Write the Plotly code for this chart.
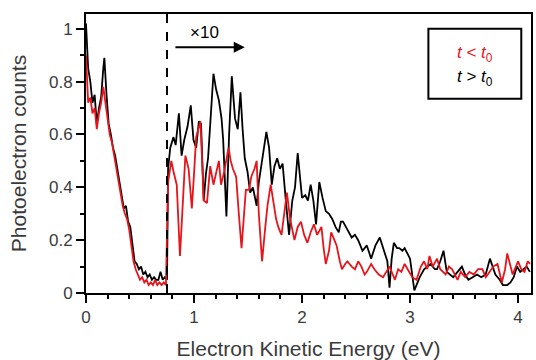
import plotly.graph_objects as go

# t > t0 (black)
black_x = [0.00, 0.01, 0.02, 0.04, 0.06, 0.08, 0.10, 0.12, 0.14, 0.16, 0.17, 0.19, 0.21, 0.23, 0.25, 0.27,
           0.29, 0.31, 0.33, 0.35, 0.37, 0.39, 0.41, 0.43, 0.45, 0.47, 0.49, 0.51, 0.53, 0.55, 0.57, 0.59,
           0.61, 0.63, 0.65, 0.67, 0.69, 0.71, 0.73, 0.75,
           0.76, 0.78, 0.81, 0.83, 0.86, 0.885, 0.91, 0.94, 0.97, 0.995, 1.02, 1.045, 1.065, 1.09, 1.11,
           1.13, 1.155, 1.18, 1.205, 1.23, 1.255, 1.27, 1.30, 1.325, 1.35, 1.365, 1.38, 1.405, 1.43, 1.45,
           1.47, 1.495, 1.52, 1.545, 1.58, 1.60, 1.635, 1.67, 1.695, 1.72, 1.745, 1.77, 1.795, 1.82, 1.85,
           1.88, 1.91, 1.935, 1.96, 1.98, 2.00, 2.03, 2.055, 2.08, 2.105, 2.13, 2.16, 2.19, 2.22, 2.25,
           2.28, 2.31, 2.34, 2.36, 2.38, 2.42, 2.46, 2.49, 2.52, 2.56, 2.60, 2.64, 2.68, 2.72, 2.76, 2.79,
           2.81, 2.83, 2.85, 2.88, 2.90, 2.93, 2.95, 3.00, 3.04, 3.07, 3.09, 3.13, 3.16, 3.19, 3.23, 3.25,
           3.28, 3.31, 3.34, 3.37, 3.40, 3.44, 3.48, 3.51, 3.54, 3.58, 3.62, 3.66, 3.70, 3.74, 3.77, 3.79,
           3.83, 3.86, 3.90, 3.93, 3.96, 3.99, 4.02, 4.05, 4.08, 4.11]
black_y = [1.02, 0.95, 0.85, 0.80, 0.72, 0.75, 0.64, 0.70, 0.74, 0.85, 0.89, 0.75, 0.64, 0.60, 0.55, 0.52,
           0.47, 0.41, 0.37, 0.32, 0.33, 0.27, 0.25, 0.18, 0.12, 0.11, 0.09, 0.10, 0.07, 0.08, 0.06, 0.07,
           0.05, 0.06, 0.05, 0.05, 0.08, 0.05, 0.06, 0.05,
           0.47, 0.55, 0.59, 0.56, 0.68, 0.52, 0.58, 0.63, 0.71, 0.58, 0.55, 0.65, 0.64, 0.35, 0.45,
           0.51, 0.66, 0.83, 0.77, 0.73, 0.66, 0.58, 0.29, 0.60, 0.82, 0.72, 0.66, 0.62, 0.76, 0.62,
           0.51, 0.46, 0.38, 0.40, 0.33, 0.42, 0.52, 0.61, 0.55, 0.41, 0.48, 0.51, 0.47, 0.49, 0.35,
           0.22, 0.35, 0.40, 0.53, 0.43, 0.36, 0.37, 0.35, 0.41, 0.35, 0.26, 0.42, 0.36, 0.31, 0.30,
           0.28, 0.25, 0.23, 0.27, 0.27, 0.24, 0.21, 0.22, 0.20, 0.16, 0.18, 0.13, 0.18, 0.21, 0.16, 0.12,
           0.02, 0.13, 0.19, 0.17, 0.17, 0.16, 0.17, 0.13, 0.01, 0.04, 0.06, 0.09, 0.10, 0.11, 0.09, 0.09,
           0.12, 0.16, 0.08, 0.07, 0.06, 0.08, 0.10, 0.07, 0.05, 0.06, 0.07, 0.06, 0.07, 0.13, 0.09, 0.07,
           0.05, 0.03, 0.03, 0.04, 0.06, 0.10, 0.08, 0.09, 0.10, 0.08]

# t < t0 (red)
red_x = [0.00, 0.01, 0.02, 0.04, 0.06, 0.08, 0.10, 0.12, 0.14, 0.16, 0.18, 0.20, 0.22, 0.24, 0.26, 0.28,
         0.30, 0.32, 0.34, 0.36, 0.38, 0.40, 0.42, 0.44, 0.46, 0.48, 0.50, 0.52, 0.54, 0.56, 0.58, 0.60,
         0.62, 0.64, 0.66, 0.68, 0.70, 0.72, 0.74,
         0.76, 0.79, 0.81, 0.84, 0.87, 0.895, 0.92, 0.95, 0.98, 1.00, 1.02, 1.04, 1.06, 1.075, 1.09,
         1.12, 1.15, 1.18, 1.205, 1.23, 1.25, 1.28, 1.32, 1.34, 1.36, 1.39, 1.415, 1.44, 1.46, 1.48,
         1.51, 1.53, 1.56, 1.58, 1.60, 1.63, 1.66, 1.68, 1.71, 1.74, 1.76, 1.78, 1.81, 1.835, 1.86,
         1.89, 1.93, 1.96, 1.99, 2.02, 2.05, 2.08, 2.11, 2.14, 2.18, 2.20, 2.22, 2.25, 2.27, 2.30,
         2.32, 2.35, 2.37, 2.40, 2.42, 2.46, 2.49, 2.52, 2.55, 2.58, 2.60, 2.64, 2.67, 2.71, 2.75,
         2.78, 2.81, 2.84, 2.86, 2.89, 2.92, 2.95, 2.98, 3.02, 3.06, 3.10, 3.13, 3.16, 3.18, 3.21,
         3.25, 3.28, 3.33, 3.36, 3.39, 3.44, 3.47, 3.51, 3.55, 3.59, 3.63, 3.67, 3.70, 3.72, 3.77,
         3.81, 3.85, 3.88, 3.90, 3.93, 3.95, 3.98, 4.00, 4.03, 4.06, 4.09, 4.11]
red_y = [0.90, 0.80, 0.72, 0.74, 0.68, 0.70, 0.62, 0.68, 0.72, 0.78, 0.72, 0.64, 0.60, 0.57, 0.52, 0.47,
         0.43, 0.38, 0.33, 0.30, 0.28, 0.24, 0.17, 0.12, 0.09, 0.07, 0.05, 0.06, 0.04, 0.05, 0.03, 0.04,
         0.03, 0.05, 0.03, 0.04, 0.03, 0.04, 0.03,
         0.42, 0.50, 0.46, 0.41, 0.14, 0.35, 0.52, 0.47, 0.32, 0.45, 0.59, 0.62, 0.65, 0.50, 0.35,
         0.34, 0.48, 0.41, 0.45, 0.50, 0.41, 0.46, 0.55, 0.50, 0.47, 0.44, 0.30, 0.17, 0.28, 0.39,
         0.39, 0.44, 0.47, 0.50, 0.30, 0.12, 0.25, 0.33, 0.41, 0.33, 0.28, 0.25, 0.22, 0.30, 0.38,
         0.28, 0.20, 0.25, 0.27, 0.22, 0.19, 0.23, 0.26, 0.22, 0.25, 0.17, 0.11, 0.16, 0.23, 0.20,
         0.18, 0.12, 0.09, 0.11, 0.12, 0.10, 0.09, 0.12, 0.10, 0.07, 0.08, 0.11, 0.09, 0.07, 0.06,
         0.08, 0.10, 0.07, 0.05, 0.09, 0.08, 0.11, 0.09, 0.06, 0.05, 0.10, 0.12, 0.09, 0.14, 0.10,
         0.13, 0.09, 0.07, 0.10, 0.09, 0.05, 0.08, 0.06, 0.08, 0.07, 0.09, 0.09, 0.06, 0.07, 0.10,
         0.11, 0.04, 0.09, 0.15, 0.10, 0.07, 0.10, 0.12, 0.09, 0.08, 0.12, 0.11]

x_ticks = [0, 1, 2, 3, 4]
y_ticks = [0, 0.2, 0.4, 0.6, 0.8, 1]
y_tick_labels = ["0", "0.2", "0.4", "0.6", "0.8", "1"]
cutoff = 0.75

FONT = "Liberation Sans, Arial, sans-serif"
RED = "#e8141c"
GREY = "#3a3a3a"

fig = go.Figure()
fig.add_trace(go.Scatter(x=black_x, y=black_y, mode="lines",
                         line=dict(color="black", width=1.8), showlegend=False))
fig.add_trace(go.Scatter(x=red_x, y=red_y, mode="lines",
                         line=dict(color=RED, width=1.8), showlegend=False))

fig.add_shape(type="line", x0=cutoff, x1=cutoff, y0=0, y1=1, xref="x", yref="paper",
              line=dict(color="black", width=2, dash="dash"))

# x10 arrow
fig.add_annotation(x=1.47, y=0.93, ax=0.80, ay=0.93, xref="x", yref="y", axref="x", ayref="y",
                   showarrow=True, arrowhead=2, arrowsize=1.1, arrowwidth=2, arrowcolor="black", text=" ")
fig.add_annotation(x=1.1, y=0.985, xref="x", yref="y", text="×10", showarrow=False,
                   font=dict(family=FONT, size=17, color="black"))

# legend box
fig.add_shape(type="rect", x0=3.17, x1=4.03, y0=0.735, y1=1.0, xref="x", yref="y",
              line=dict(color="black", width=2), fillcolor="rgba(0,0,0,0)")
fig.add_annotation(x=3.6, y=0.905, xref="x", yref="y", showarrow=False,
                   text="<i>t</i> < <i>t</i><sub>0</sub>",
                   font=dict(family=FONT, size=17, color=RED))
fig.add_annotation(x=3.6, y=0.815, xref="x", yref="y", showarrow=False,
                   text="<i>t</i> > <i>t</i><sub>0</sub>",
                   font=dict(family=FONT, size=17, color="black"))

fig.update_layout(
    width=536, height=360,
    margin=dict(l=86, r=3, t=14, b=65),
    paper_bgcolor="white", plot_bgcolor="white",
    font=dict(family=FONT, color=GREY),
    xaxis=dict(range=[0, 4.12], tickvals=x_ticks, ticks="outside", ticklen=8, tickwidth=1.5,
               tickcolor="black", showline=True, linecolor="black", linewidth=2, mirror=True,
               showgrid=False, zeroline=False, tickfont=dict(size=17, color=GREY),
               minor=dict(dtick=0.2, ticks="outside", ticklen=4, tickwidth=1.5, tickcolor="black"),
               title=dict(text="Electron Kinetic Energy (eV)", font=dict(size=21, color=GREY), standoff=15)),
    yaxis=dict(range=[0, 1.056], tickvals=y_ticks, ticktext=y_tick_labels, ticks="outside", ticklen=8,
               tickwidth=1.5, tickcolor="black", showline=True, linecolor="black", linewidth=2, mirror=True,
               showgrid=False, zeroline=False, tickfont=dict(size=17, color=GREY),
               minor=dict(dtick=0.1, ticks="outside", ticklen=4, tickwidth=1.5, tickcolor="black"),
               title=dict(text="Photoelectron counts", font=dict(size=21, color=GREY), standoff=17)),
)

fig.write_html("out.html")
